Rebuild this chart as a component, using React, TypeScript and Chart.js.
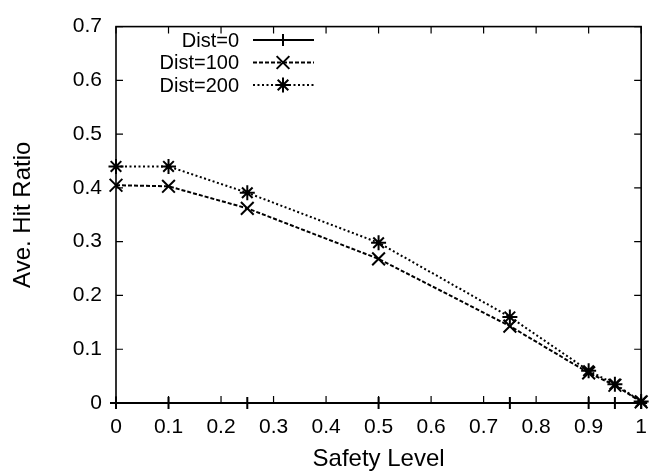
import { useEffect, useRef } from "react";
import { Chart, registerables } from "chart.js";
import { drawPoint } from "chart.js/helpers";

Chart.register(...registerables);

const safetyLevels = [0, 0.1, 0.25, 0.5, 0.75, 0.9, 0.95, 1];
const dist0 = [0, 0, 0, 0, 0, 0, 0, 0];
const dist100 = [0.405, 0.403, 0.362, 0.268, 0.143, 0.056, 0.033, 0.002];
const dist200 = [0.44, 0.44, 0.391, 0.298, 0.16, 0.06, 0.035, 0.003];
const xTicks = [0, 0.1, 0.2, 0.3, 0.4, 0.5, 0.6, 0.7, 0.8, 0.9, 1];
const yTicks = [0, 0.1, 0.2, 0.3, 0.4, 0.5, 0.6, 0.7];
const seriesLabels = ["Dist=0", "Dist=100", "Dist=200"];

const FONT = '"Liberation Sans", Arial, Helvetica, sans-serif';

const styles = [
  { dash: [] as number[], point: "cross", radius: 6 },
  { dash: [4, 2], point: "crossRot", radius: 9 },
  { dash: [2, 2.5], point: "star", radius: 7.5 },
];

const framePlugin = {
  id: "frame",
  beforeDatasetsDraw(chart: any) {
    const { ctx, chartArea: a, scales } = chart;
    ctx.save();
    ctx.strokeStyle = "#000";
    ctx.lineWidth = 1.6;
    ctx.setLineDash([]);
    ctx.strokeRect(a.left, a.top, a.right - a.left, a.bottom - a.top);
    const tl = 7;
    ctx.lineWidth = 1.2;
    ctx.beginPath();
    for (const v of xTicks) {
      const x = scales.x.getPixelForValue(v);
      ctx.moveTo(x, a.bottom);
      ctx.lineTo(x, a.bottom - tl);
      ctx.moveTo(x, a.top);
      ctx.lineTo(x, a.top + tl);
    }
    for (const v of yTicks) {
      const y = scales.y.getPixelForValue(v);
      ctx.moveTo(a.left, y);
      ctx.lineTo(a.left + tl, y);
      ctx.moveTo(a.right, y);
      ctx.lineTo(a.right - tl, y);
    }
    ctx.stroke();
    ctx.restore();
  },
  afterDraw(chart: any) {
    const { ctx } = chart;
    ctx.save();
    ctx.font = `20px ${FONT}`;
    ctx.textAlign = "right";
    ctx.textBaseline = "middle";
    const rows = [40, 62.5, 85];
    seriesLabels.forEach((label, i) => {
      const y = rows[i];
      ctx.fillStyle = "#000";
      ctx.fillText(label, 239, y + 1);
      ctx.strokeStyle = "#000";
      ctx.lineWidth = 2;
      ctx.setLineDash(styles[i].dash);
      ctx.beginPath();
      ctx.moveTo(253, y);
      ctx.lineTo(314, y);
      ctx.stroke();
      ctx.setLineDash([]);
      drawPoint(ctx, { pointStyle: styles[i].point, radius: styles[i].radius, borderWidth: 2, rotation: 0 } as any, 283, y);
    });
    ctx.restore();
  },
};

export default function App() {
  const ref = useRef<HTMLCanvasElement>(null);
  useEffect(() => {
    if (!ref.current) return;
    const series = [dist0, dist100, dist200];
    const chart = new Chart(ref.current, {
      type: "line",
      data: {
        datasets: series.map((vals, i) => ({
          label: seriesLabels[i],
          data: safetyLevels.map((x, j) => ({ x, y: vals[j] })),
          borderColor: "#000",
          backgroundColor: "#000",
          borderWidth: 2,
          borderDash: styles[i].dash,
          pointStyle: styles[i].point as any,
          pointRadius: styles[i].radius,
          pointBorderWidth: 2,
          pointBorderColor: "#000",
          fill: false,
          tension: 0,
          clip: false as any,
        })),
      },
      options: {
        animation: false,
        responsive: false,
        events: [],
        layout: { padding: { top: 23, right: 10, left: 0, bottom: 0 } },
        plugins: { legend: { display: false }, tooltip: { enabled: false } },
        scales: {
          x: {
            type: "linear",
            min: 0,
            max: 1,
            afterBuildTicks: (s: any) => {
              s.ticks = xTicks.map((v) => ({ value: v }));
            },
            afterFit: (s: any) => {
              s.height = 71;
            },
            grid: { display: false, drawTicks: false },
            border: { display: false },
            ticks: {
              padding: 12,
              color: "#000",
              font: { family: FONT, size: 21 },
              maxRotation: 0,
              autoSkip: false,
              callback: (v: any) => String(v),
            },
            title: {
              display: true,
              text: "Safety Level",
              color: "#000",
              font: { family: FONT, size: 24 },
              padding: { top: 0, bottom: 0 },
            },
          },
          y: {
            type: "linear",
            min: 0,
            max: 0.7,
            afterBuildTicks: (s: any) => {
              s.ticks = yTicks.map((v) => ({ value: v }));
            },
            afterFit: (s: any) => {
              s.width = 116;
            },
            grid: { display: false, drawTicks: false },
            border: { display: false },
            ticks: {
              padding: 14,
              color: "#000",
              font: { family: FONT, size: 21 },
              autoSkip: false,
              callback: (v: any) => String(v),
            },
            title: {
              display: true,
              text: "Ave. Hit Ratio",
              color: "#000",
              font: { family: FONT, size: 24 },
              padding: { top: 9, bottom: 0 },
            },
          },
        },
      },
      plugins: [framePlugin],
    });
    return () => chart.destroy();
  }, []);
  return (
    <div style={{ position: "fixed", left: 0, top: 0, width: 659, height: 474, background: "#fff" }}>
      <canvas ref={ref} width={659} height={474} style={{ width: 659, height: 474 }} />
    </div>
  );
}
